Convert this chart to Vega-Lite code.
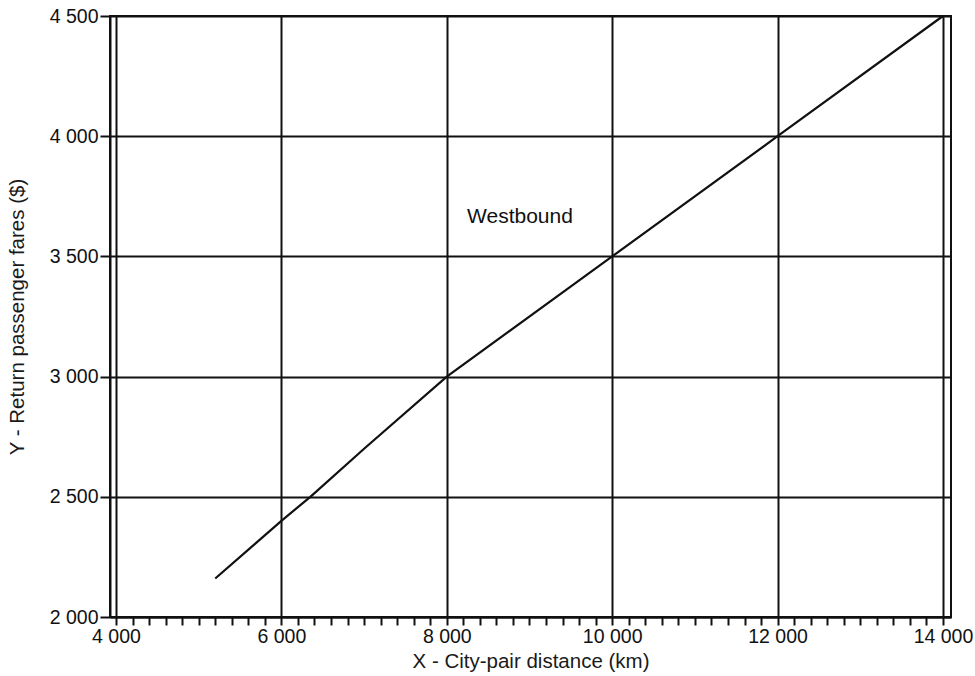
{
  "$schema": "https://vega.github.io/schema/vega-lite/v6.json",
  "width": 841,
  "height": 601,
  "autosize": {"type": "none"},
  "padding": {"left": 110, "top": 16, "right": 24, "bottom": 59},
  "background": "white",
  "config": {
    "view": {"stroke": "#111", "strokeWidth": 2},
    "font": "Liberation Sans",
    "axis": {
      "labelFont": "Liberation Sans",
      "titleFont": "Liberation Sans",
      "labelColor": "#111",
      "titleColor": "#1a1a1a",
      "domainColor": "#111",
      "domainWidth": 2,
      "tickColor": "#111",
      "tickWidth": 2,
      "gridColor": "#111",
      "gridWidth": 2,
      "labelFontSize": 19.5,
      "titleFontSize": 20.5,
      "titleFontWeight": "normal"
    }
  },
  "datasets": {
    "fare_line": [
      {"distance": 5200, "fare": 2160},
      {"distance": 6000, "fare": 2400},
      {"distance": 6350, "fare": 2500},
      {"distance": 7000, "fare": 2700},
      {"distance": 8000, "fare": 3000},
      {"distance": 10000, "fare": 3500},
      {"distance": 12000, "fare": 4000},
      {"distance": 14000, "fare": 4500}
    ],
    "notes": [
      {"distance": 8885, "fare": 3664, "label": "Westbound"}
    ]
  },
  "layer": [
    {
      "data": {"name": "fare_line"},
      "mark": {"type": "line", "color": "#111", "strokeWidth": 2.2},
      "encoding": {
        "x": {
          "field": "distance",
          "type": "quantitative",
          "scale": {"domain": [3927.5, 14097], "nice": false, "zero": false},
          "axis": {
            "title": "X - City-pair distance (km)",
            "values": [4000, 4200, 4400, 4600, 4800, 5000, 5200, 5400, 5600, 5800, 6000, 6200, 6400, 6600, 6800, 7000, 7200, 7400, 7600, 7800, 8000, 8200, 8400, 8600, 8800, 9000, 9200, 9400, 9600, 9800, 10000, 10200, 10400, 10600, 10800, 11000, 11200, 11400, 11600, 11800, 12000, 12200, 12400, 12600, 12800, 13000, 13200, 13400, 13600, 13800, 14000],
            "tickCount": 200,
            "labelExpr": "datum.value % 2000 === 0 ? replace(format(datum.value, ','), ',', ' ') : ''",
            "labelOverlap": false,
            "labelFlush": false,
            "grid": true,
            "gridOpacity": {"condition": {"test": "datum.value % 2000 === 0", "value": 1}, "value": 0},
            "tickSize": 8,
            "labelPadding": 2,
            "titlePadding": 6
          }
        },
        "y": {
          "field": "fare",
          "type": "quantitative",
          "scale": {"domain": [2000, 4500], "nice": false, "zero": false},
          "axis": {
            "title": "Y - Return passenger fares ($)",
            "values": [2000, 2500, 3000, 3500, 4000, 4500],
            "tickCount": 20,
            "labelExpr": "replace(format(datum.value, ','), ',', ' ')",
            "grid": true,
            "tickSize": 10,
            "labelPadding": 2,
            "titlePadding": 22
          }
        }
      }
    },
    {
      "data": {"name": "notes"},
      "mark": {"type": "text", "fontSize": 21, "color": "#111", "align": "center", "baseline": "middle", "font": "Liberation Sans"},
      "encoding": {
        "x": {"field": "distance", "type": "quantitative"},
        "y": {"field": "fare", "type": "quantitative"},
        "text": {"field": "label"}
      }
    }
  ]
}
